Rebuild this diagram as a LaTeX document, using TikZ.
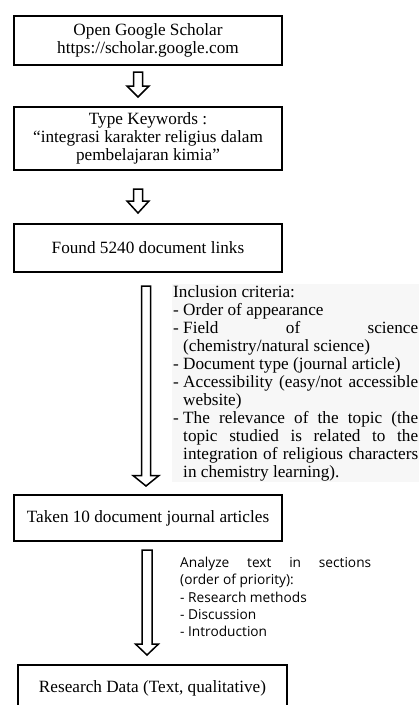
\documentclass[tikz,border=0pt]{standalone}
\usepackage{fontspec}
\setmainfont{Liberation Serif}
\newfontfamily\notesans{Open Sans}
\usetikzlibrary{positioning,calc}
\setlength{\parindent}{0pt}
\newcommand{\critem}[1]{\par\setbox0=\hbox{-\ }\hangindent=\wd0 \hangafter=1 \noindent\box0 #1\par}
\newcommand{\loosejust}{\tolerance=10000\relax\hbadness=10000\relax}
\newcommand{\hollowarrow}[5]{% from, to, shaft half width, head half width, head length
  \draw[blockarrow] let \p1=(#1), \p2=(#2) in
    (\x1-#3,\y1) -- (\x1-#3,\y2+#5) -- (\x1-#4,\y2+#5) -- (\x1,\y2)
    -- (\x1+#4,\y2+#5) -- (\x1+#3,\y2+#5) -- (\x1+#3,\y1) -- cycle;}
\tikzset{
  stepbox/.style   = {draw, line width=2.2pt, minimum width=267.8pt, inner sep=2pt,
                      align=center, font=\fontsize{17.2pt}{18pt}\selectfont},
  blockarrow/.style = {draw, line width=1.5pt, fill=white, line join=miter},
  critbox/.style   = {fill=gray!6, text width=245pt, inner sep=1pt, align=justify,
                      font=\fontsize{17.2pt}{18pt}\selectfont\loosejust},
  notebox/.style   = {text width=191pt, inner sep=1pt, align=justify,
                      font=\notesans\fontsize{13.7pt}{17.3pt}\selectfont\loosejust},
}
\begin{document}
\begin{tikzpicture}[x=1pt,y=-1pt]
  \clip (0,0) rectangle (419,705);
  % steps
  \node[stepbox, minimum height=48.8pt] (open) at (148,40.5) {Open Google Scholar\\https://scholar.google.com};
  \node[stepbox, minimum height=62.8pt, below=40pt of open] (kw) {Type Keywords :\\“integrasi karakter religius dalam\\pembelajaran kimia”};
  \node[stepbox, minimum height=47.8pt, below=52pt of kw] (found) {Found 5240 document links};
  \node[stepbox, minimum height=45.8pt, below=221pt of found] (taken) {Taken 10 document journal articles};
  \node[stepbox, minimum height=45.8pt, minimum width=268.8pt, below=122pt of taken, xshift=4.5pt] (data) {Research Data (Text, qualitative)};
  % arrows
  \hollowarrow{$(open.south)+(-10,6)$}{$(kw.north)+(-10,-9)$}{4.5pt}{11pt}{11pt}
  \hollowarrow{$(kw.south)+(-10,18)$}{$(found.north)+(-10,-10)$}{4.5pt}{11pt}{12pt}
  \hollowarrow{$(found.south)+(-2,13)$}{$(taken.north)+(-2,-8)$}{4.5pt}{13pt}{10.5pt}
  \hollowarrow{$(taken.south)+(-1,8)$}{$(data.north)+(-1,-9)$}{5pt}{11.5pt}{11pt}
  % notes
  \node[critbox, anchor=north west] (incl) at (172,284) {Inclusion criteria:
    \critem{Order of appearance}
    \critem{Field of science \linebreak (chemistry/natural science)}
    \critem{Document type (journal article)}
    \critem{Accessibility (easy/not accessible \linebreak website)}
    \critem{The relevance of the topic (the \linebreak topic studied is related to the \linebreak integration of religious characters \linebreak in chemistry learning).}};
  \node[notebox, anchor=north west] (ana) at (179,556) {Analyze text in sections \linebreak (order of priority):
    \critem{Research methods}
    \critem{Discussion}
    \critem{Introduction}};
\end{tikzpicture}
\end{document}
